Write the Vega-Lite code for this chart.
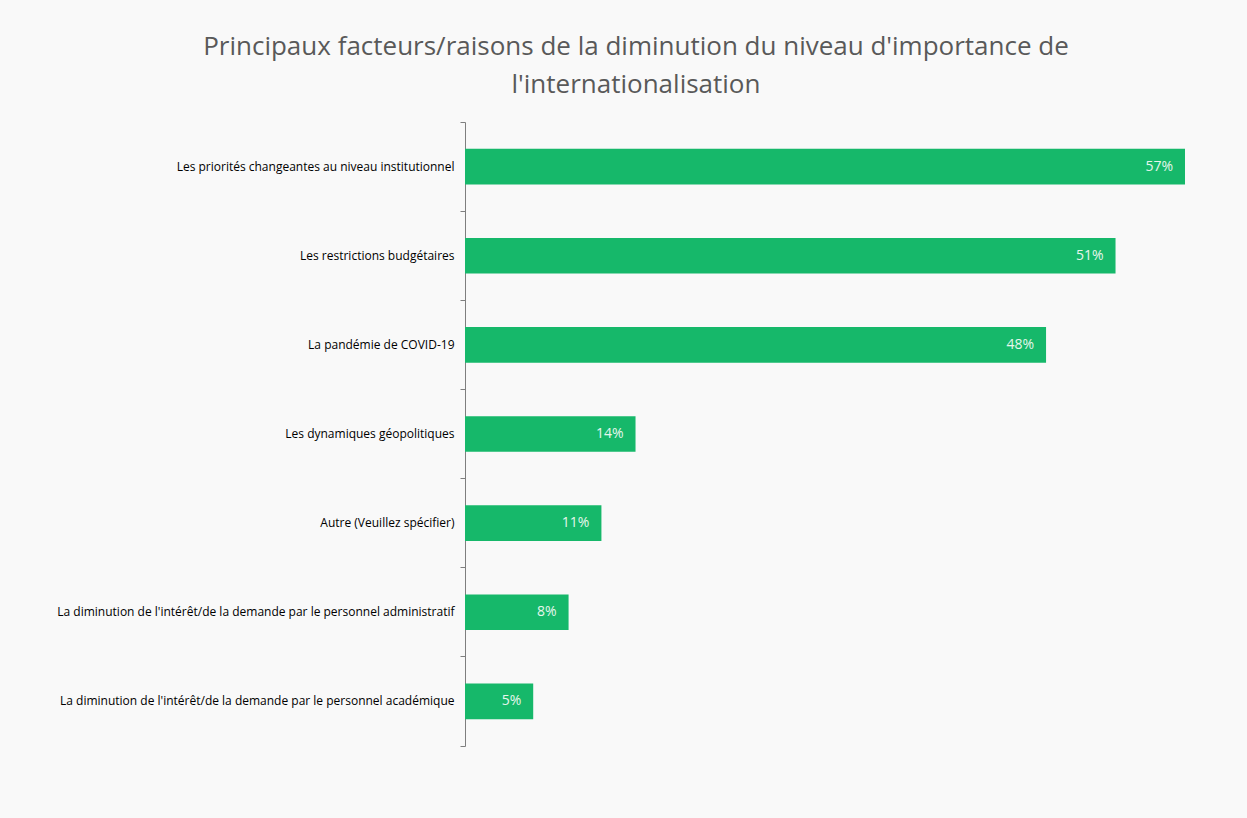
{
  "$schema": "https://vega.github.io/schema/vega-lite/v6.json",
  "width": 720,
  "height": 624,
  "autosize": {"type": "none"},
  "padding": {"left": 465, "top": 122, "right": 62, "bottom": 72},
  "background": "#f9f9f9",
  "config": {"view": {"stroke": null}, "font": "Open Sans"},
  "title": {
    "text": ["Principaux facteurs/raisons de la diminution du niveau d'importance de", "l'internationalisation"],
    "anchor": "middle",
    "frame": "group",
    "dx": -189,
    "offset": 18,
    "fontSize": 26,
    "fontWeight": "normal",
    "font": "Open Sans",
    "color": "#595959",
    "lineHeight": 38
  },
  "data": {
    "values": [
      {"raison": "Les priorités changeantes au niveau institutionnel", "valeur": 57, "etiquette": "57%"},
      {"raison": "Les restrictions budgétaires", "valeur": 51.5, "etiquette": "51%"},
      {"raison": "La pandémie de COVID-19", "valeur": 46, "etiquette": "48%"},
      {"raison": "Les dynamiques géopolitiques", "valeur": 13.5, "etiquette": "14%"},
      {"raison": "Autre (Veuillez spécifier)", "valeur": 10.8, "etiquette": "11%"},
      {"raison": "La diminution de l'intérêt/de la demande par le personnel administratif", "valeur": 8.2, "etiquette": "8%"},
      {"raison": "La diminution de l'intérêt/de la demande par le personnel académique", "valeur": 5.4, "etiquette": "5%"}
    ]
  },
  "encoding": {
    "y": {
      "field": "raison",
      "type": "nominal",
      "sort": null,
      "scale": {"paddingInner": 0, "paddingOuter": 0},
      "axis": {
        "title": null,
        "domainColor": "#7f7f7f",
        "tickColor": "#7f7f7f",
        "tickSize": 5,
        "bandPosition": 1,
        "tickExtra": true,
        "labelFontSize": 12,
        "labelFont": "Open Sans",
        "labelColor": "#000000",
        "labelPadding": 6,
        "labelLimit": 450
      }
    },
    "x": {
      "field": "valeur",
      "type": "quantitative",
      "scale": {"domain": [0, 57], "nice": false},
      "axis": null
    }
  },
  "layer": [
    {"mark": {"type": "bar", "color": "#16b86a", "height": {"band": 0.4}}},
    {
      "mark": {"type": "text", "align": "right", "dx": -12, "color": "#e6f6ec", "fontSize": 14, "font": "Open Sans"},
      "encoding": {"text": {"field": "etiquette"}}
    }
  ]
}
